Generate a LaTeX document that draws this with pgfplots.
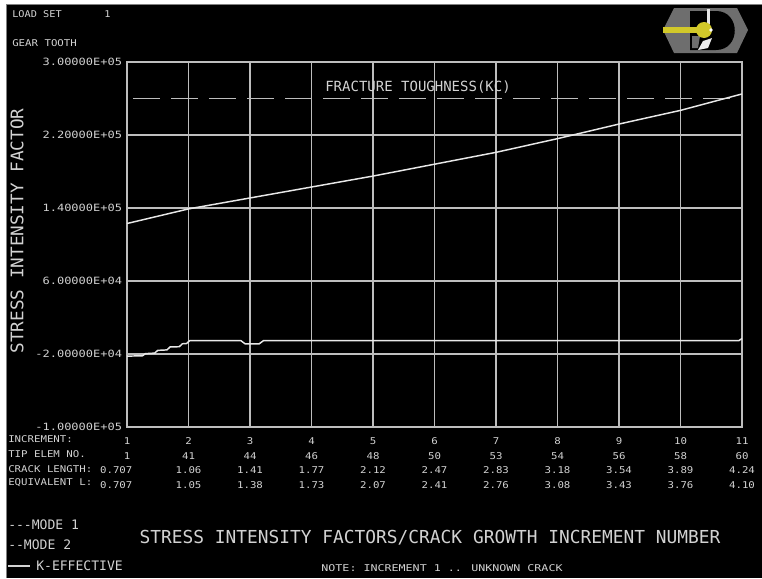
\documentclass[border=0pt]{standalone}
\usepackage{pgfplots}
\pgfplotsset{compat=1.18}
\usepackage{fontspec}
\setmainfont{DejaVu Sans Mono}
\usepackage{graphicx}
\definecolor{tx}{HTML}{D2D2D2}
\definecolor{gr}{HTML}{BDBDBD}
\definecolor{ln}{HTML}{E8E8E8}
\definecolor{hexg}{HTML}{6E6E6E}
\newcommand\sx[2]{\scalebox{#1}[1]{#2}}
\newcommand\yl[1]{\sx{1.2}{#1}}
\newcommand\tl[4]{\sx{1.15}{\begin{tabular}{@{}c@{}}#1\\#2\\#3\\#4\end{tabular}}}
\pgfplotstableread{
x y
1 123000
2 139000
3 151000
4 163000
5 175000
6 188000
7 201000
8 216000
9 232000
10 247000
11 265000
}\keff
\pgfplotstableread{
x y
1 -22300
1.25 -22000
1.3 -19600
1.45 -19000
1.5 -16000
1.65 -15500
1.7 -12300
1.85 -12000
1.9 -8800
1.97 -8500
2.02 -5300
2.85 -5300
2.92 -8800
3.15 -8800
3.22 -5300
10.95 -5300
11 -3000
}\modeone
\begin{document}
\begin{tikzpicture}
\begin{scope}[x=0.75pt,y=-0.75pt]
\useasboundingbox (0,0) rectangle (762,578);
\fill[white] (0,0) rectangle (762,578);
\fill[black] (6,4) rectangle (762,578);
\draw[gray, line width=0.8pt] (6.5,578) -- (6.5,4.5) -- (762,4.5);
% logo
\fill[hexg] (663,30) -- (674,8) -- (737,8) -- (748,30) -- (737,53) -- (674,53) -- cycle;
\fill[black] (690,11) -- (716,11) .. controls (741,11) and (741,50) .. (716,50) -- (690,50) -- cycle;
\fill[hexg] (692,36) -- (700,36) -- (698,48) -- (692,48) -- cycle;
\fill[white!80!gray] (707,9) rectangle (710,24);
\fill[yellow!80!black] (663,27) rectangle (703,33);
\fill[yellow!80!black] (704,30) ellipse (8 and 8);
\fill[white!85!gray] (698,50) -- (703,41) -- (712,38) -- (708,48) -- cycle;
\fill[white] (711,30) circle (1.8);
% texts
\node[anchor=west, text=tx, inner sep=0pt] at (12,14) {\fontsize{7}{8}\selectfont\sx{1.1}{LOAD SET}};
\node[anchor=west, text=tx, inner sep=0pt] at (104,14) {\fontsize{7}{8}\selectfont\sx{1.1}{1}};
\node[anchor=west, text=tx, inner sep=0pt] at (12,43) {\fontsize{7}{8}\selectfont\sx{1.15}{GEAR TOOTH}};
\node[rotate=90, text=tx, inner sep=0pt] at (17,231) {\fontsize{13}{14}\selectfont\sx{1.02}{STRESS INTENSITY FACTOR}};
\node[anchor=west, text=tx, inner sep=0pt] at (8,439) {\fontsize{7}{8}\selectfont\sx{1.15}{INCREMENT:}};
\node[anchor=west, text=tx, inner sep=0pt] at (8,454) {\fontsize{7}{8}\selectfont\sx{1.15}{TIP ELEM NO.}};
\node[anchor=west, text=tx, inner sep=0pt] at (8,469) {\fontsize{7}{8}\selectfont\sx{1.15}{CRACK LENGTH:}};
\node[anchor=west, text=tx, inner sep=0pt] at (8,483) {\fontsize{7}{8}\selectfont\sx{1.15}{EQUIVALENT L:}};
\node[anchor=west, text=tx, inner sep=0pt] at (8,525) {\fontsize{9.8}{10}\selectfont -{}-{}-MODE 1};
\node[anchor=west, text=tx, inner sep=0pt] at (8,545) {\fontsize{9.8}{10}\selectfont -{}-MODE 2};
\draw[tx, line width=1pt] (8,566) -- (30,566);
\node[anchor=west, text=tx, inner sep=0pt] at (36,566) {\fontsize{9.8}{10}\selectfont K-EFFECTIVE};
\node[text=tx, inner sep=0pt] at (430,538) {\fontsize{13.4}{14}\selectfont STRESS INTENSITY FACTORS/CRACK GROWTH INCREMENT NUMBER};
\node[text=tx, inner sep=0pt] at (442,568) {\fontsize{7}{8}\selectfont\sx{1.25}{NOTE: INCREMENT 1 .. UNKNOWN CRACK}};
\end{scope}
\begin{axis}[
  at={(95.25pt,-320.25pt)}, anchor=south west,
  width=461.25pt, height=273.75pt, scale only axis,
  xmin=1, xmax=11, ymin=-100000, ymax=300000,
  xtick={1,...,11},
  ytick={-100000,-20000,60000,140000,220000,300000},
  yticklabels={\yl{-1.00000E+05},\yl{-2.00000E+04},\yl{6.00000E+04},\yl{1.40000E+05},\yl{2.20000E+05},\yl{3.00000E+05}},
  xticklabels={
    {\tl{1}{1}{\makebox[0pt]{0.707\kern14pt}}{\makebox[0pt]{0.707\kern14pt}}},
    {\tl{2}{41}{1.06}{1.05}},
    {\tl{3}{44}{1.41}{1.38}},
    {\tl{4}{46}{1.77}{1.73}},
    {\tl{5}{48}{2.12}{2.07}},
    {\tl{6}{50}{2.47}{2.41}},
    {\tl{7}{53}{2.83}{2.76}},
    {\tl{8}{54}{3.18}{3.08}},
    {\tl{9}{56}{3.54}{3.43}},
    {\tl{10}{58}{3.89}{3.76}},
    {\tl{11}{60}{4.24}{4.10}}},
  grid=major,
  major grid style={gr, line width=1.1pt},
  axis line style={gr, line width=1.1pt},
  major tick length=0pt,
  scaled y ticks=false,
  yticklabel style={font=\fontsize{7.5}{8}\selectfont, text=tx, anchor=east, inner sep=0pt, xshift=-3.5pt},
  xticklabel style={font=\fontsize{7}{11.1}\selectfont, text=tx, anchor=north, inner sep=0pt, yshift=-5pt},
  clip=false,
]
\addplot[gr, line width=1.1pt, dash pattern=on 20pt off 8.5pt, dash phase=24pt] coordinates {(1,260000) (11,260000)};
\addplot[ln, line width=1.1pt] table[x=x,y=y] {\keff};
\addplot[ln, line width=1.1pt] table[x=x,y=y] {\modeone};
\node[anchor=west, text=tx, inner sep=0pt] at (axis cs:4.22,273000) {\fontsize{10.5}{11}\selectfont FRACTURE TOUGHNESS(KC)};
\end{axis}
\end{tikzpicture}
\end{document}
